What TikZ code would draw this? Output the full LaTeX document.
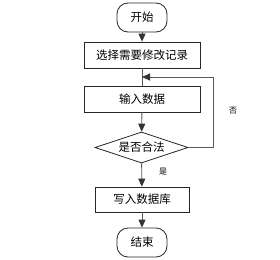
\documentclass[tikz,border=0pt]{standalone}
\usepackage{fontspec}
\setmainfont{Noto Sans CJK SC}
\usetikzlibrary{arrows.meta,shapes.geometric}
\begin{document}
\begin{tikzpicture}[x=1pt,y=-1pt,
  every node/.style={font=\fontsize{11.5}{13}\selectfont, text=black},
  term/.style={draw=black!85, line width=0.8pt, rounded corners=11pt, minimum width=50pt, minimum height=29pt, inner sep=0pt},
  proc/.style={draw=black!85, line width=0.8pt, minimum width=116pt, minimum height=26pt, inner sep=0pt},
  dec/.style={draw=black!85, line width=0.8pt, diamond, aspect=3, minimum width=93pt, minimum height=31pt, inner sep=0pt},
  conn/.style={draw=black!65, line width=0.9pt, -{Triangle[width=7pt,length=8pt,color=black!80]}},
  lbl/.style={font=\fontsize{8}{9}\selectfont}]
\path[use as bounding box] (0,0) rectangle (280,259);
\node[term] (start) at (142,17.5) {开始};
\node[proc] (sel) at (142,55) {选择需要修改记录};
\node[proc] (inp) at (142,99) {输入数据};
\node[dec] (chk) at (141.5,147.5) {是否合法};
\node[proc, minimum width=94pt, minimum height=25pt] (wr) at (142,199.5) {写入数据库};
\node[term, minimum height=29pt] (end) at (142,242.5) {结束};
\coordinate (loopin) at (142,77);
\coordinate (c1) at (213,147.5);
\coordinate (c2) at (213,77);
\draw[conn] (start) -- (sel);
\draw[draw=black!65, line width=0.9pt] (sel) -- (inp);
\draw[conn] (inp) -- (chk);
\draw[conn] (chk.east) -- (c1) -- (c2) -- (loopin);
\draw[conn] (chk) -- (wr);
\draw[conn] (wr) -- (end);
\node[lbl] (no) at (233,111) {否};
\node[lbl] (yes) at (163,172) {是};
\end{tikzpicture}
\end{document}
